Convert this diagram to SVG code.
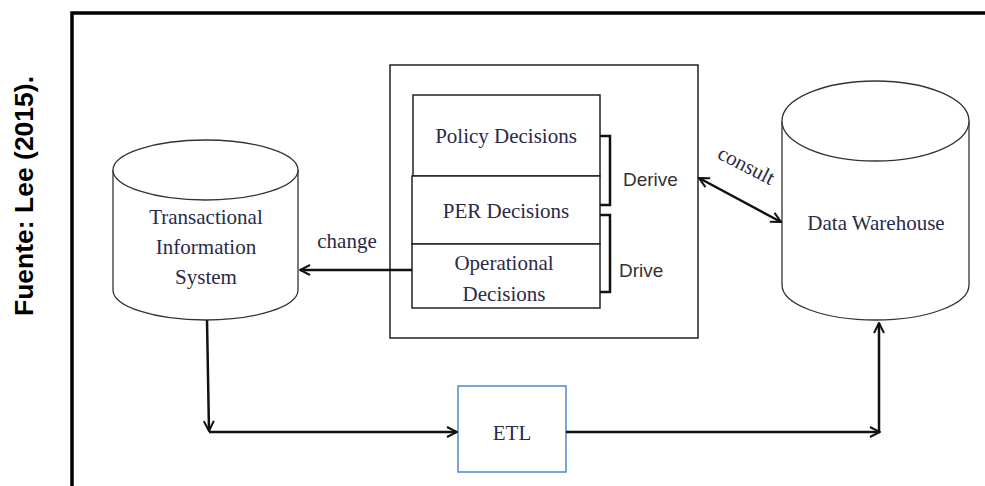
<svg xmlns="http://www.w3.org/2000/svg" width="985" height="486" viewBox="0 0 985 486">
<defs>
<style>
.serif{font-family:"Liberation Serif","Times New Roman",serif;font-size:21px;fill:#2a2a48;text-anchor:middle}
.sans{font-family:"Liberation Sans",Arial,sans-serif;font-size:19px;fill:#333}
.thin{fill:#fff;stroke:#333;stroke-width:1.3}
.box{fill:#fff;stroke:#222;stroke-width:1.5}
.conn{fill:none;stroke:#111;stroke-width:2.5}
.brk{fill:none;stroke:#111;stroke-width:2.5}
</style>
<marker id="ah" viewBox="0 0 12 12" refX="11" refY="6" markerWidth="12" markerHeight="12" markerUnits="userSpaceOnUse" orient="auto-start-reverse">
<path d="M1,1 L11,6 L1,11" fill="none" stroke="#111" stroke-width="2"/>
</marker>
</defs>
<rect width="985" height="486" fill="#fff"/>
<path d="M72,486 V13 H985" fill="none" stroke="#000" stroke-width="3.5"/>
<text x="0" y="0" transform="translate(33,196) rotate(-90)" text-anchor="middle" font-family="Liberation Sans, Arial, sans-serif" font-size="26.5" font-weight="bold" fill="#000">Fuente: Lee (2015).</text>

<g id="tis">
<path class="thin" d="M113,170 V290 A92.5,30 0 0 0 298,290 V170 A92.5,30 0 0 0 113,170 Z"/>
<path class="thin" d="M113,170 A92.5,30 0 0 0 298,170" fill="none"/>
<text class="serif" x="206" y="224">Transactional</text>
<text class="serif" x="206" y="254">Information</text>
<text class="serif" x="206" y="284">System</text>
</g>

<g id="dw">
<path class="thin" d="M782,121 V285 A93.5,35 0 0 0 969,285 V121 A93.5,40 0 0 0 782,121 Z"/>
<path class="thin" d="M782,121 A93.5,40 0 0 0 969,121" fill="none"/>
<text class="serif" x="876" y="230">Data Warehouse</text>
</g>

<g id="decisions">
<rect class="box" x="390" y="65" width="308" height="273"/>
</g>
<g id="policy">
<rect class="box" x="413" y="95" width="187" height="81"/>
<text class="serif" x="506" y="143">Policy Decisions</text>
</g>
<g id="per">
<rect class="box" x="412" y="176" width="188" height="68"/>
<text class="serif" x="506" y="218">PER Decisions</text>
</g>
<g id="operational">
<rect class="box" x="412" y="244" width="188" height="64"/>
<text class="serif" x="504" y="270">Operational</text>
<text class="serif" x="504" y="301">Decisions</text>
</g>
<g id="etl">
<rect x="458" y="386" width="108" height="86" fill="#fff" stroke="#5b8fd0" stroke-width="1.6"/>
<text class="serif" x="512" y="440">ETL</text>
</g>

<g id="connectors">
<path class="brk" d="M600,136 H610 V205 H600"/>
<path class="brk" d="M600,215 H610 V292 H600"/>
<text class="sans" x="623" y="186">Derive</text>
<text class="sans" x="619" y="277">Drive</text>
<path class="conn" d="M412,270 H300" marker-end="url(#ah)"/>
<text class="serif" x="347" y="248">change</text>
<path class="conn" d="M207,320 L209,431" marker-end="url(#ah)"/>
<path class="conn" d="M209,432 H457" marker-end="url(#ah)"/>
<path class="conn" d="M566,432 H880" marker-end="url(#ah)"/>
<path class="conn" d="M879,432 V323" marker-end="url(#ah)"/>
<path class="conn" d="M699,178 L781,222" marker-start="url(#ah)" marker-end="url(#ah)"/>
<text class="serif" x="745" y="172" transform="rotate(27 745 168)">consult</text>
</g>
</svg>
